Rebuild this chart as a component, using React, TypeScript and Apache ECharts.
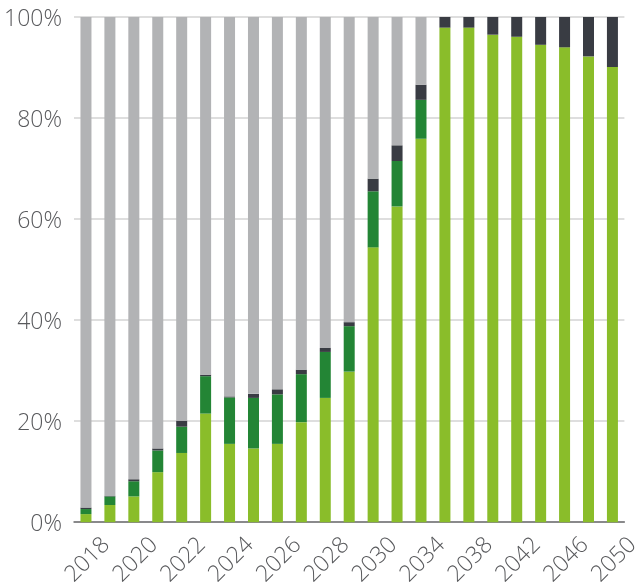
import React, { useEffect, useRef } from "react";
import * as echarts from "echarts";

const years = [
  "2018", "2019", "2020", "2021", "2022", "2023", "2024", "2025", "2026", "2027",
  "2028", "2029", "2030", "2032", "2034", "2036", "2038", "2040", "2042", "2044",
  "2046", "2048", "2050",
];

// cumulative tops (%), converted to segment sizes below
const limeTop = [1.6, 3.4, 5.1, 9.9, 13.7, 21.5, 15.5, 14.6, 15.5, 19.8, 24.6, 29.8, 54.4, 62.5, 75.9, 97.9, 97.9, 96.5, 96.1, 94.5, 94.0, 92.2, 90.1];
const greenTop = [2.6, 5.1, 8.1, 14.2, 18.9, 28.9, 24.7, 24.6, 25.3, 29.3, 33.7, 38.8, 65.5, 71.5, 83.6, 97.9, 97.9, 96.5, 96.1, 94.5, 94.0, 92.2, 90.1];
const darkTop = [2.9, 5.2, 8.5, 14.6, 20.1, 29.2, 24.9, 25.4, 26.3, 30.2, 34.5, 39.6, 68.0, 74.6, 86.6, 100, 100, 100, 100, 100, 100, 100, 100];

const lime = limeTop.map((v) => +v.toFixed(1));
const green = greenTop.map((v, i) => +(v - limeTop[i]).toFixed(1));
const dark = darkTop.map((v, i) => +(v - greenTop[i]).toFixed(1));
const grey = darkTop.map((v) => +(100 - v).toFixed(1));

const yTicks = [0, 20, 40, 60, 80, 100];

export default function App() {
  const ref = useRef<HTMLDivElement>(null);
  useEffect(() => {
    if (!ref.current) return;
    const chart = echarts.init(ref.current, undefined, { renderer: "svg" });
    const font = "'Open Sans', 'Noto Sans', sans-serif";
    const mk = (name: string, data: number[], color: string) => ({
      name,
      type: "bar",
      stack: "total",
      data,
      barWidth: 11,
      itemStyle: { color },
    });
    chart.setOption({
      animation: false,
      grid: { left: 74, right: 5, top: 17, bottom: 63, containLabel: false },
      xAxis: {
        type: "category",
        data: years,
        axisTick: { show: false },
        axisLine: { lineStyle: { color: "#6E6E70", width: 1.5 } },
        axisLabel: {
          interval: 1,
          rotate: 45,
          align: "center",
          verticalAlign: "middle",
          margin: 36,
          fontSize: 23,
          fontWeight: 300,
          fontFamily: font,
          color: "#58595C",
        },
      },
      yAxis: {
        type: "value",
        min: 0,
        max: 100,
        interval: 20,
        axisLine: { show: false },
        axisTick: { show: false },
        splitLine: { lineStyle: { color: "#D3D3D3", width: 1.5 } },
        axisLabel: {
          margin: 12,
          fontSize: 23,
          fontWeight: 300,
          fontFamily: font,
          color: "#58595C",
          formatter: (v: number) => (yTicks.includes(v) ? v + "%" : ""),
        },
      },
      series: [
        mk("lime", lime, "#8ABD2A"),
        mk("green", green, "#238535"),
        mk("dark", dark, "#393C43"),
        mk("grey", grey, "#B2B3B5"),
      ],
    });
    return () => chart.dispose();
  }, []);
  return (
    <div
      ref={ref}
      style={{ position: "fixed", left: 0, top: 0, width: 641, height: 587 }}
    />
  );
}
